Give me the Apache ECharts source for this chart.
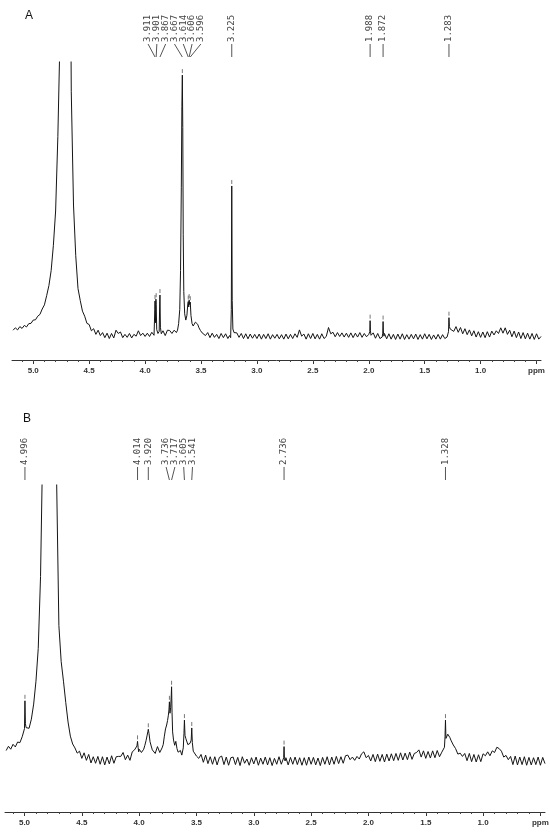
<!DOCTYPE html>
<html>
<head>
<meta charset="utf-8">
<script src="https://cdn.jsdelivr.net/npm/echarts@6/dist/echarts.min.js"></script>
<style>
  html, body { margin: 0; padding: 0; background: #fff; }
  #chart { width: 550px; height: 834px; }
</style>
</head>
<body>
<div id="chart"></div>
<script>
// both traces are read on a 0.02 ppm grid, intensity in % of the visible plot height
const gridStep = 0.02;

// spectrum A, grid starts at 5.18 ppm
const startA = 5.18;
const baseA = [
  10.0, 10.8, 10.1, 11.2, 10.6, 11.6, 11.1, 12.2, 12.3, 13.4,
  13.5, 14.7, 15.3, 17.1, 18.5, 21.6, 25.0, 30.0, 38.5, 50.0,
  75, 110, 220, 400, 400, 220, 90, 52, 35, 24,
  20.0, 16.4, 14.7, 12.3, 11.9, 9.8, 10.5, 8.6, 10.0, 8.2,
  9.2, 7.5, 9.0, 7.2, 8.9, 7.4, 10.0, 8.9, 9.4, 7.5,
  8.6, 7.6, 8.9, 7.4, 8.6, 8.0, 9.8, 8.2, 9.0, 7.9,
  9.0, 7.9, 9.3, 8.3, 9.0, 9.0, 9.0, 9.8, 8.2, 10.0,
  9.9, 8.9, 10.0, 9.0, 12.0, 20.0, 13.0, 14.0, 19.0, 19.0,
  12.0, 11.8, 12.8, 11.0, 10.0, 8.9, 8.4, 9.2, 7.5, 9.0,
  7.6, 8.6, 7.2, 8.9, 7.5, 8.8, 7.2, 8.0, 8.0, 9.0,
  9.1, 7.6, 8.9, 7.2, 8.8, 7.1, 8.7, 7.3, 8.6, 7.2,
  8.7, 7.0, 8.6, 7.2, 8.8, 7.0, 8.5, 7.3, 8.6, 7.1,
  8.5, 7.0, 8.7, 7.1, 8.6, 7.2, 8.8, 7.6, 10.1, 8.0,
  8.7, 7.0, 8.8, 7.2, 8.9, 7.1, 8.6, 7.0, 8.8, 7.2,
  7.9, 10.9, 8.8, 9.3, 7.8, 9.2, 7.9, 9.1, 7.7, 9.0,
  7.6, 9.1, 7.5, 9.0, 7.7, 9.2, 7.6, 8.9, 7.8, 8.6,
  8.2, 9.1, 7.3, 8.9, 7.2, 8.0, 8.9, 7.1, 8.8, 7.0,
  8.6, 6.9, 8.7, 7.0, 8.8, 6.9, 8.5, 7.0, 8.6, 7.1,
  8.7, 6.9, 8.5, 7.0, 8.8, 7.1, 8.6, 6.9, 8.4, 7.0,
  8.6, 7.0, 8.5, 7.2, 7.7, 8.0, 10.9, 9.6, 11.2, 9.3,
  10.9, 8.8, 10.5, 8.5, 10.1, 8.1, 9.8, 7.7, 9.5, 7.6,
  9.4, 7.5, 9.5, 7.7, 9.7, 8.4, 9.8, 8.9, 10.8, 9.0,
  10.8, 8.6, 10.0, 7.8, 9.7, 7.5, 9.4, 7.2, 9.2, 7.1,
  9.0, 7.0, 8.9, 6.9, 8.8, 7.0, 7.9
];
// sharp lines of A, read at finer spacing: [ppm, intensity]
const linesA = [
  [[3.918, 8.8], [3.913, 17.0], [3.911, 19.8], [3.907, 12.5], [3.903, 20.4], [3.901, 18.6], [3.896, 10.2],
   [3.885, 8.9], [3.874, 9.6], [3.869, 19.5], [3.867, 21.8], [3.863, 11.0], [3.855, 8.8]],
  [[3.72, 9.2], [3.71, 10.0], [3.70, 12.2], [3.69, 17.0], [3.683, 30.0], [3.676, 58.0], [3.671, 85.0],
   [3.667, 95.6], [3.663, 78.0], [3.659, 42.0], [3.654, 23.0], [3.646, 15.5], [3.636, 13.4], [3.626, 15.0],
   [3.618, 18.8], [3.614, 19.6], [3.610, 17.8], [3.606, 20.1], [3.601, 18.6], [3.596, 19.4], [3.590, 15.0],
   [3.580, 12.2], [3.570, 11.4], [3.560, 11.9], [3.550, 12.7], [3.540, 12.9], [3.530, 12.0], [3.518, 10.8],
   [3.505, 9.9], [3.490, 9.1], [3.475, 8.6], [3.460, 8.2]],
  [[3.245, 8.2], [3.235, 7.5], [3.229, 17.0], [3.225, 58.4], [3.221, 20.0], [3.215, 10.4], [3.205, 9.2]],
  [[1.996, 8.1], [1.991, 9.5], [1.988, 13.2], [1.985, 9.8], [1.980, 8.3]],
  [[1.880, 7.7], [1.875, 9.0], [1.872, 12.9], [1.869, 9.4], [1.864, 8.0]],
  [[1.292, 7.7], [1.287, 9.5], [1.283, 14.2], [1.279, 11.2], [1.272, 10.4]]
];
const labelsA = [3.911, 3.901, 3.867, 3.667, 3.614, 3.606, 3.596, 3.225, 1.988, 1.872, 1.283];

// spectrum B, grid starts at 5.16 ppm
const startB = 5.16;
const baseB = [
  18.8, 20.1, 19.2, 20.7, 19.9, 21.4, 21.2, 23.0, 24.0, 26.4,
  25.6, 28.4, 33.0, 40.0, 50.0, 72.0, 115, 250, 400, 400,
  300, 170, 102, 57.0, 46.0, 40.0, 33.5, 27.5, 23.2, 20.8,
  19.6, 18.0, 18.6, 16.4, 18.1, 15.8, 17.6, 15.0, 16.9, 14.9,
  17.0, 14.6, 16.9, 14.4, 16.8, 14.7, 17.2, 14.9, 16.9, 17.0,
  17.0, 18.2, 16.0, 17.4, 15.8, 18.4, 19.0, 20.0, 19.2, 18.2,
  19.2, 22.0, 25.0, 21.0, 19.6, 17.9, 20.0, 18.2, 19.6, 23.0,
  26.0, 31.0, 35.0, 22.0, 21.0, 18.5, 18.8, 18.0, 23.0, 21.0,
  20.5, 24.0, 18.5, 17.0, 16.4, 17.6, 15.2, 17.4, 14.8, 16.9,
  14.6, 16.9, 14.4, 16.7, 17.1, 14.5, 16.8, 14.3, 16.6, 16.8,
  14.5, 16.7, 14.2, 16.9, 14.9, 16.2, 14.3, 16.6, 14.7, 16.8,
  14.3, 16.5, 14.6, 16.8, 14.4, 16.6, 14.2, 16.4, 14.6, 16.9,
  14.6, 15.5, 16.6, 14.4, 16.7, 14.6, 16.8, 14.5, 16.6, 14.3,
  16.6, 14.3, 16.8, 14.6, 16.7, 14.4, 16.5, 14.2, 16.7, 14.6,
  16.9, 14.4, 16.8, 14.6, 17.0, 14.8, 16.9, 14.9, 17.2, 17.4,
  16.0, 16.8, 15.8, 17.0, 16.2, 17.8, 18.4, 16.6, 17.3, 15.6,
  17.6, 15.4, 17.7, 15.5, 17.6, 15.3, 17.7, 15.6, 17.8, 15.7,
  17.9, 15.8, 18.1, 15.9, 18.0, 16.0, 18.3, 16.1, 17.9, 18.2,
  19.0, 16.8, 18.7, 16.4, 18.5, 16.5, 18.7, 16.6, 18.8, 16.9,
  18.3, 18.2, 25.0, 23.5, 21.8, 20.5, 19.4, 17.7, 18.0, 17.0,
  17.9, 15.7, 17.9, 15.4, 17.6, 15.3, 17.5, 15.4, 17.8, 17.2,
  18.4, 17.2, 18.7, 18.2, 19.8, 19.4, 18.6, 16.8, 17.3, 16.0,
  17.0, 14.5, 17.1, 14.4, 16.8, 14.5, 16.9, 14.3, 16.7, 14.4,
  16.6, 14.5, 16.8, 14.3, 16.7, 14.8
];
const linesB = [
  [[5.005, 23.2], [5.000, 25.5], [4.996, 34.0], [4.992, 27.0], [4.986, 25.8]],
  [[4.024, 18.6], [4.019, 20.2], [4.014, 21.6], [4.009, 19.8], [4.004, 18.4]],
  [[3.950, 20.4], [3.940, 21.8], [3.930, 23.5], [3.924, 24.6], [3.920, 25.3], [3.914, 24.0], [3.905, 21.5],
   [3.895, 20.2], [3.885, 19.0]],
  [[3.790, 20.6], [3.780, 23.2], [3.770, 25.4], [3.760, 26.6], [3.752, 28.0], [3.745, 29.6], [3.740, 31.2],
   [3.736, 33.7], [3.731, 30.2], [3.725, 32.0], [3.720, 35.5], [3.717, 38.3], [3.713, 30.5], [3.708, 24.5],
   [3.700, 22.0], [3.690, 20.4], [3.680, 21.6], [3.670, 19.4], [3.660, 18.3]],
  [[3.640, 18.8], [3.628, 17.4], [3.615, 19.6], [3.609, 24.0], [3.605, 28.1], [3.600, 23.4], [3.592, 22.4],
   [3.584, 23.0], [3.575, 20.6], [3.565, 20.0], [3.556, 21.0], [3.546, 22.0], [3.541, 25.7], [3.536, 21.2],
   [3.528, 18.6], [3.515, 18.2], [3.500, 17.1], [3.485, 16.8]],
  [[2.745, 15.0], [2.739, 16.6], [2.736, 20.0], [2.733, 16.4], [2.727, 15.6]],
  [[1.345, 18.2], [1.337, 19.8], [1.332, 23.0], [1.328, 28.1], [1.324, 22.5], [1.316, 22.8], [1.308, 23.8],
   [1.300, 23.5], [1.290, 22.8], [1.281, 22.0]]
];
const labelsB = [4.996, 4.014, 3.920, 3.736, 3.717, 3.605, 3.541, 2.736, 1.328];

const majorTicks = [5.0, 4.5, 4.0, 3.5, 3.0, 2.5, 2.0, 1.5, 1.0, 0.5];
const minorTicks = [];
for (let t = 51; t >= 5; t--) minorTicks.push(t / 10);

function buildTrace(start, base, lines) {
  const spans = lines.map(g => [g[g.length - 1][0], g[0][0]]);
  const pts = [];
  base.forEach((v, i) => {
    const p = +(start - i * gridStep).toFixed(2);
    if (spans.some(s => p >= s[0] && p <= s[1])) return; // fine reading wins here
    pts.push([p, v]);
  });
  lines.forEach(g => g.forEach(d => pts.push(d)));
  return pts.sort((a, b) => b[0] - a[0]);
}

function peakHeight(trace, ppm) {
  let h = 0;
  trace.forEach(d => { if (Math.abs(d[0] - ppm) <= 0.005) h = Math.max(h, d[1]); });
  return h;
}

// push crowded labels apart, each cluster centred on its peaks
function spread(xs, gap) {
  let groups = xs.map((x, i) => ({ idx: [i], c: x }));
  let merged = true;
  while (merged) {
    merged = false;
    for (let k = 0; k < groups.length - 1; k++) {
      const a = groups[k], b = groups[k + 1];
      const aRight = a.c + (a.idx.length - 1) * gap / 2;
      const bLeft = b.c - (b.idx.length - 1) * gap / 2;
      if (bLeft - aRight < gap) {
        const idx = a.idx.concat(b.idx);
        const c = idx.reduce((s, j) => s + xs[j], 0) / idx.length;
        groups.splice(k, 2, { idx, c });
        merged = true;
        break;
      }
    }
  }
  const out = [];
  groups.forEach(g => g.idx.forEach((j, n) => {
    out[j] = g.c + (n - (g.idx.length - 1) / 2) * gap;
  }));
  return out;
}

const traceA = buildTrace(startA, baseA, linesA);
const traceB = buildTrace(startB, baseB, linesB);

function labelSeries(axis, labels, trace) {
  return {
    type: "custom",
    xAxisIndex: axis * 2,
    yAxisIndex: axis,
    clip: false,
    silent: true,
    z: 5,
    data: labels.map(v => [v, peakHeight(trace, v)]),
    renderItem(params, api) {
      const top = params.coordSys.y;
      const xs = spread(labels.map(v => api.coord([v, 0])[0]), 8.8);
      const i = params.dataIndex;
      const p = api.coord([api.value(0), api.value(1)]);
      const lx = xs[i];
      return {
        type: "group",
        children: [
          {
            type: "text",
            x: lx, y: top - 20,
            rotation: Math.PI / 2,
            style: {
              text: labels[i].toFixed(3),
              font: '9px "DejaVu Sans Mono"',
              fill: "#444",
              textAlign: "left",
              textVerticalAlign: "middle"
            }
          },
          {
            type: "line",
            shape: { x1: lx, y1: top - 18, x2: p[0], y2: top - 5 },
            style: { stroke: "#555", lineWidth: 1 }
          },
          {
            type: "line",
            shape: { x1: p[0], y1: p[1] - 2, x2: p[0], y2: p[1] - 6 },
            style: { stroke: "#777", lineWidth: 1 }
          }
        ]
      };
    }
  };
}

function axisPair(grid, min, max) {
  return [
    {
      type: "value", gridIndex: grid, position: "bottom", inverse: true, min, max,
      axisLine: { lineStyle: { color: "#333", width: 1 } },
      axisTick: { customValues: majorTicks, length: 4, lineStyle: { color: "#333" } },
      axisLabel: {
        customValues: majorTicks, margin: 7,
        fontFamily: "Liberation Sans", fontSize: 8, fontWeight: "bold", color: "#333",
        formatter: v => (v === 0.5 ? "ppm" : v.toFixed(1))
      },
      splitLine: { show: false }
    },
    {
      type: "value", gridIndex: grid, position: "bottom", offset: 0, inverse: true, min, max,
      axisLine: { show: false },
      axisTick: { customValues: minorTicks, length: 2, lineStyle: { color: "#444" } },
      axisLabel: { show: false },
      splitLine: { show: false }
    }
  ];
}

const chart = echarts.init(document.getElementById("chart"), null, { renderer: "canvas" });
chart.setOption({
  animation: false,
  backgroundColor: "#fff",
  title: [
    { text: "A", left: 20, top: 5, textStyle: { fontFamily: "Liberation Sans", fontSize: 12, fontWeight: "normal", color: "#111" } },
    { text: "B", left: 18, top: 408, textStyle: { fontFamily: "Liberation Sans", fontSize: 12, fontWeight: "normal", color: "#111" } }
  ],
  grid: [
    { left: 12, right: 9, top: 62, height: 298, outerBoundsMode: "none" },
    { left: 5, right: 5, top: 485, height: 327, outerBoundsMode: "none" }
  ],
  xAxis: axisPair(0, 0.46, 5.19).concat(axisPair(1, 0.46, 5.17)),
  yAxis: [
    { type: "value", gridIndex: 0, min: 0, max: 100, show: false },
    { type: "value", gridIndex: 1, min: 0, max: 100, show: false }
  ],
  series: [
    {
      type: "line", xAxisIndex: 0, yAxisIndex: 0, data: traceA,
      showSymbol: false, symbol: "none", clip: true, silent: true,
      lineStyle: { color: "#151515", width: 1 }
    },
    {
      type: "line", xAxisIndex: 2, yAxisIndex: 1, data: traceB,
      showSymbol: false, symbol: "none", clip: true, silent: true,
      lineStyle: { color: "#151515", width: 1 }
    },
    labelSeries(0, labelsA, traceA),
    labelSeries(1, labelsB, traceB)
  ]
});
</script>
</body>
</html>
